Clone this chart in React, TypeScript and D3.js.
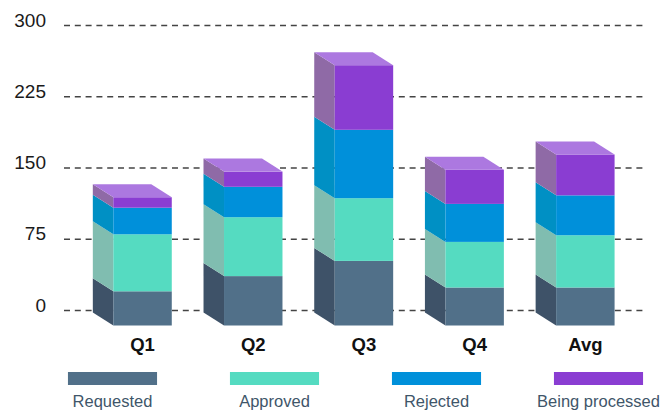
import React from "react";
import * as d3 from "d3";

const categories = ["Q1", "Q2", "Q3", "Q4", "Avg"];
const requested = [36, 52, 68, 40, 40];
const approved = [60, 62, 66, 48, 55];
const rejected = [28, 32, 72, 40, 42];
const processing = [11, 16, 68, 36, 43];
const seriesNames = ["Requested", "Approved", "Rejected", "Being processed"];
const yTicks = [0, 75, 150, 225, 300];

// front / side / top colours per series
const frontColors = ["#517089", "#55dbc1", "#0090da", "#8a3dd2"];
const sideColors = ["#3e5268", "#80bdb0", "#0090c4", "#8f6aa6"];
const topColors = ["#5d7f99", "#7de6d1", "#2aa5e6", "#ac78e0"];

const width = 670;
const height = 412;
const font = "Helvetica, 'Liberation Sans', Arial, sans-serif";

// depth of the bars
const depthX = 20.5;
const depthY = 13;
const frontShift = 15;

export default function App() {
  const table = categories.map((c, i) => ({
    cat: c,
    Requested: requested[i],
    Approved: approved[i],
    Rejected: rejected[i],
    "Being processed": processing[i],
  }));
  const stacked = d3.stack<any>().keys(seriesNames)(table);

  const y = d3.scaleLinear().domain([0, 300]).range([310.5, 25.5]);
  const x = d3
    .scaleBand()
    .domain(categories)
    .range([87.2, 640.7])
    .paddingInner(0.472)
    .paddingOuter(0.236);
  const bw = x.bandwidth();

  const legendX = d3.scaleBand().domain(seriesNames).range([31.5, 679.5]).paddingInner(0.45).paddingOuter(0.225);

  const fy = (v: number) => y(v) + frontShift;

  return (
    <svg
      width={width}
      height={height}
      style={{ position: "absolute", left: 0, top: 0, background: "#fff" }}
    >
      {/* grid */}
      {yTicks.map((t) => (
        <g key={t}>
          <line
            x1={64}
            x2={646}
            y1={y(t)}
            y2={y(t)}
            stroke="#444"
            strokeWidth={1.3}
            strokeDasharray="6 4.8"
          />
          <text
            x={46}
            y={y(t) + 1}
            textAnchor="end"
            fontFamily={font}
            fontSize={19}
            fill="#1a1a1a"
          >
            {t}
          </text>
        </g>
      ))}

      {/* bars */}
      {categories.map((c, ci) => {
        const x0 = x(c) as number;
        const top = stacked[stacked.length - 1][ci][1];
        return (
          <g key={c}>
            {stacked.map((s, si) => {
              const d = s[ci];
              const yt = fy(d[1]);
              const yb = fy(d[0]);
              return (
                <g key={s.key}>
                  <path
                    d={`M${x0},${yt}L${x0 - depthX},${yt - depthY}L${x0 - depthX},${yb - depthY}L${x0},${yb}Z`}
                    fill={sideColors[si]}
                  />
                  <rect x={x0} y={yt} width={bw} height={yb - yt} fill={frontColors[si]} />
                </g>
              );
            })}
            <path
              d={`M${x0},${fy(top)}L${x0 - depthX},${fy(top) - depthY}L${x0 + bw - depthX},${fy(top) - depthY}L${x0 + bw},${fy(top)}Z`}
              fill={topColors[seriesNames.length - 1]}
            />
            <text
              x={x0 + bw / 2}
              y={351}
              textAnchor="middle"
              fontFamily={font}
              fontWeight="bold"
              fontSize={18.5}
              fill="#111"
            >
              {c}
            </text>
          </g>
        );
      })}

      {/* legend */}
      {seriesNames.map((n, i) => {
        const lx = legendX(n) as number;
        const lw = legendX.bandwidth();
        return (
          <g key={n}>
            <rect x={lx} y={372} width={lw} height={13} fill={frontColors[i]} />
            <text
              x={lx + lw / 2}
              y={407}
              textAnchor="middle"
              fontFamily={font}
              fontSize={16.5}
              fill="#3f566a"
            >
              {n}
            </text>
          </g>
        );
      })}
    </svg>
  );
}
